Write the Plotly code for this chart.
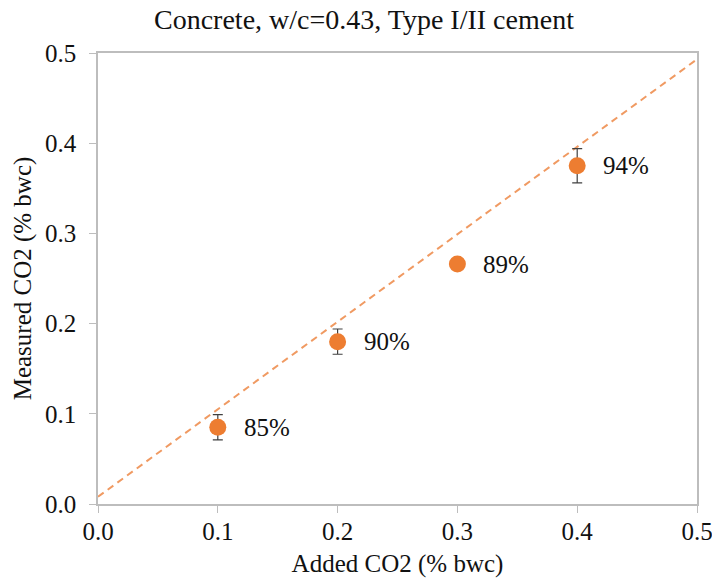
import plotly.graph_objects as go

added = [0.1, 0.2, 0.3, 0.4]
measured = [0.085, 0.180, 0.266, 0.375]
err = [0.014, 0.014, 0.004, 0.019]
labels = ["85%", "90%", "89%", "94%"]
trend_x = [0.0, 0.5]
trend_y = [0.008, 0.493]

FONT = "Liberation Serif"
ORANGE = "#ED7D31"

fig = go.Figure()
fig.add_trace(go.Scatter(
    x=trend_x, y=trend_y, mode="lines",
    line=dict(color="#F09A62", width=2, dash="7px,5px"),
    hoverinfo="skip", showlegend=False))
fig.add_trace(go.Scatter(
    x=added, y=measured, mode="markers",
    marker=dict(color=ORANGE, size=17),
    error_y=dict(type="data", array=err, visible=True, color="#404040", thickness=1.2, width=5),
    showlegend=False))

for xv, yv, t in zip(added, measured, labels):
    fig.add_annotation(x=xv, y=yv, text=t, showarrow=False, xanchor="left",
                       yanchor="middle", xshift=24,
                       font=dict(family=FONT, size=25, color="#111"))

axis_common = dict(
    range=[0, 0.5], dtick=0.1, tickformat=".1f",
    showgrid=False, zeroline=False, automargin=False,
    showline=True, linecolor="#BDBDBD", linewidth=1.5, mirror=True,
    ticks="outside", ticklen=7, tickcolor="#BDBDBD",
    ticklabeloverflow="allow",
    tickfont=dict(family=FONT, size=25, color="#111"),
)
fig.update_xaxes(**axis_common, ticklabelstandoff=-3,
                 title=dict(text="Added CO2 (% bwc)", font=dict(family=FONT, size=25, color="#111"), standoff=11))
fig.update_yaxes(**axis_common, ticklabelstandoff=8,
                 title=dict(text="Measured CO2 (% bwc)", font=dict(family=FONT, size=25, color="#111"), standoff=6))

fig.update_layout(
    width=712, height=583,
    margin=dict(l=98, r=15, t=53, b=79),
    plot_bgcolor="white", paper_bgcolor="white",
    title=dict(text="Concrete, w/c=0.43, Type I/II cement", x=364/712, xanchor="center",
               yref="container", y=1 - 19/583, yanchor="middle",
               font=dict(family=FONT, size=28, color="#111")),
)

fig.write_html("out.html")
